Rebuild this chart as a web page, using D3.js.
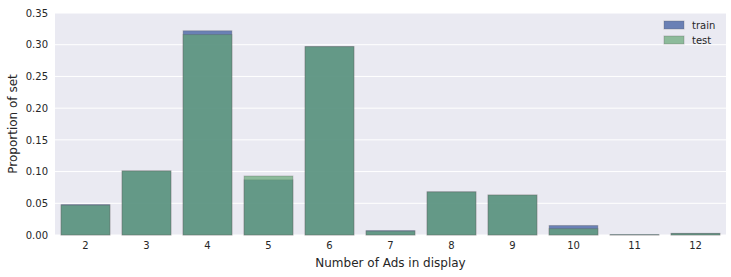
<!DOCTYPE html>
<html lang="en">
<head>
<meta charset="UTF-8">
<title>Number of Ads in display</title>
<script src="https://d3js.org/d3.v7.min.js"></script>
<style>
    body { margin: 0; background: #fff; }
    text { font-family: "DejaVu Sans", sans-serif; fill: #262626; }
</style>
</head>
<body>
<svg></svg>
<script>

    const categories = ['2', '3', '4', '5', '6', '7', '8', '9', '10', '11', '12'];
    const train = [0.048, 0.101, 0.322, 0.087, 0.297, 0.007, 0.068, 0.063, 0.015, 0.0006, 0.0025];
    const test  = [0.047, 0.101, 0.316, 0.093, 0.297, 0.006, 0.068, 0.063, 0.010, 0.0005, 0.0025];
    const yTicks = [0, 0.05, 0.10, 0.15, 0.20, 0.25, 0.30, 0.35];

    const width = 731, height = 277;
    const margin = {top: 13, right: 5, bottom: 42, left: 55};
    const w = width - margin.left - margin.right;
    const h = height - margin.top - margin.bottom;

    const svg = d3.select('svg').attr('width', width).attr('height', height);
    const g = svg.append('g').attr('transform', `translate(${margin.left},${margin.top})`);

    const x = d3.scaleBand().domain(categories).range([0, w]).paddingInner(0.2).paddingOuter(0.1);
    const y = d3.scaleLinear().domain([0, 0.35]).range([h, 0]);

    g.append('rect').attr('width', w).attr('height', h).attr('fill', '#eaeaf2');

    // grid
    g.selectAll('.grid').data(yTicks).enter().append('line')
        .attr('x1', 0).attr('x2', w)
        .attr('y1', d => y(d)).attr('y2', d => y(d))
        .attr('stroke', '#fff').attr('stroke-width', 1);

    const series = [
        {name: 'train', values: train, color: '#536daa', opacity: 0.85},
        {name: 'test', values: test, color: '#62a572', opacity: 0.68}
    ];

    series.forEach(s => {
        g.append('g').selectAll('rect').data(s.values).enter().append('rect')
            .attr('x', (d, i) => x(categories[i]))
            .attr('width', x.bandwidth())
            .attr('y', d => y(d))
            .attr('height', d => y(0) - y(d))
            .attr('fill', s.color)
            .attr('fill-opacity', s.opacity)
            .attr('stroke', '#555')
            .attr('stroke-opacity', 0.3)
            .attr('stroke-width', 1);
    });

    // axes
    const xAxis = g.append('g').attr('transform', `translate(0,${h})`)
        .call(d3.axisBottom(x).tickSize(0).tickPadding(7));
    xAxis.select('.domain').remove();
    xAxis.selectAll('text').style('font-size', '10px').attr('fill', '#262626');

    const yAxis = g.append('g')
        .call(d3.axisLeft(y).tickValues(yTicks).tickFormat(d3.format('.2f')).tickSize(0).tickPadding(7));
    yAxis.select('.domain').remove();
    yAxis.selectAll('text').style('font-size', '10px').attr('fill', '#262626');

    svg.append('text')
        .attr('x', margin.left + w / 2).attr('y', 267)
        .attr('text-anchor', 'middle')
        .style('font-size', '12px')
        .text('Number of Ads in display');

    svg.append('text')
        .attr('transform', `translate(17,${margin.top + h / 2}) rotate(-90)`)
        .attr('text-anchor', 'middle')
        .style('font-size', '12px')
        .text('Proportion of set');

    // legend
    const legend = svg.append('g').attr('transform', 'translate(664,21)');
    series.forEach((s, i) => {
        legend.append('rect')
            .attr('x', 0).attr('y', i * 15)
            .attr('width', 20).attr('height', 8)
            .attr('fill', s.color).attr('fill-opacity', s.opacity)
            .attr('stroke', '#555').attr('stroke-opacity', 0.3);
        legend.append('text')
            .attr('x', 28).attr('y', i * 15 + 8)
            .style('font-size', '10px')
            .text(s.name);
    });

</script>
</body>
</html>
